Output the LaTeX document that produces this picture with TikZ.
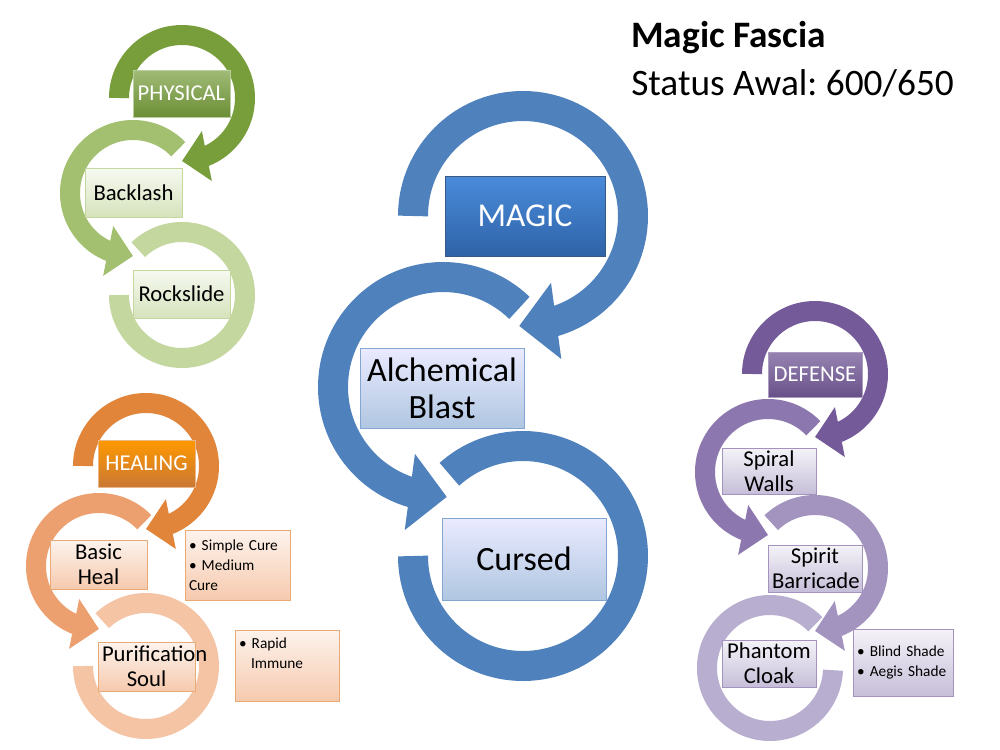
\documentclass[tikz,border=0pt]{standalone}
\usepackage{fontspec}
\setmainfont{Carlito}
\frenchspacing
\usetikzlibrary{arrows.meta,bending,shadows}
\definecolor{mgR}{HTML}{4F81BD}
\definecolor{mgTop}{HTML}{4A8BDA}\definecolor{mgBot}{HTML}{2F63A8}
\definecolor{phA}{HTML}{789E3C}\definecolor{phB}{HTML}{A2C06F}\definecolor{phC}{HTML}{C4D79F}
\definecolor{heA}{HTML}{E0853A}\definecolor{heB}{HTML}{EDA06F}\definecolor{heC}{HTML}{F5C4A5}
\definecolor{deA}{HTML}{745A98}\definecolor{deB}{HTML}{8D77AF}\definecolor{deC}{HTML}{A394BF}\definecolor{deD}{HTML}{B8AECF}
\tikzset{
 bigring/.style={line width=22.5pt},
 smallring/.style={line width=15pt},
 bigtip/.style={-{Triangle[width=56pt,length=28pt]}},
 smalltip/.style={-{Triangle[width=37pt,length=19pt]}},
 bigwtip/.style={-{Triangle[width=64pt,length=32pt]}},
 smallwtip/.style={-{Triangle[width=44pt,length=23pt]}},
 box/.style={rectangle,inner sep=1pt,align=center,drop shadow={opacity=0.25,shadow xshift=1pt,shadow yshift=-1pt}},
 magicbox/.style={box,top color=mgTop,bottom color=mgBot,draw=mgR!70!black,text=white,font=\fontsize{25}{28}\selectfont},
 bluebox/.style={box,top color=blue!8!white,bottom color=mgR!45!white,draw=mgR!70!white,font=\fontsize{25.5}{28}\selectfont},
 phhead/.style={box,top color=phA!70!white,bottom color=phA!90!black,draw=phA!50!white,text=white,font=\fontsize{17}{19}\selectfont},
 phbox/.style={box,top color=phC!15!white,bottom color=phC!70!white,draw=phC,font=\fontsize{17}{19}\selectfont},
 hehead/.style={box,top color=orange!80!yellow,bottom color=heA!90!black,draw=heA!60!white,text=white,font=\fontsize{17}{19}\selectfont},
 hebox/.style={box,top color=heC!20!white,bottom color=heC!90!white,draw=heA!70!white,font=\fontsize{17}{19}\selectfont},
 hebul/.style={box,top color=heC!20!white,bottom color=heC!90!white,draw=heA!70!white,align=left,font=\fontsize{11.5}{15}\selectfont},
 dehead/.style={box,top color=deA!75!white,bottom color=deA!90!black,draw=deA!60!white,text=white,font=\fontsize{17}{19}\selectfont},
 debox/.style={box,top color=deD!15!white,bottom color=deD!80!white,draw=deB!80!white,font=\fontsize{17}{19}\selectfont},
 debul/.style={box,top color=deD!15!white,bottom color=deD!80!white,draw=deB!80!white,align=left,font=\fontsize{11.5}{15}\selectfont},
}
\newcommand\rg[9]{%
 \draw[#7,white,line width=\pgfkeysvalueof{/pgf/ringw}, #9] ([shift={(#4:#3)}]#1,#2) arc[start angle=#4,end angle=#5,radius=#3];
 \draw[#7,draw=#6,fill=none,#8] ([shift={(#4:#3)}]#1,#2) arc[start angle=#4,end angle=#5,radius=#3];}
\pgfkeys{/pgf/ringw/.initial=27pt}
\newcommand\bx[7]{%
 \pgfmathsetmacro\bw{(#4-#2)*0.75}\pgfmathsetmacro\bh{(#5-#3)*0.75}%
 \node[#6,minimum width=\bw pt,minimum height=\bh pt,text width={\bw pt-6pt}] (#1) at ({(#2+#4)/2},{(#3+#5)/2}) {#7};}
\begin{document}
\begin{tikzpicture}[x=0.75pt,y=-0.75pt]
\useasboundingbox[fill=white] (0,0) rectangle (1000,750);
% MAGIC
\pgfkeys{/pgf/ringw=27pt}
\draw[bigring,draw=mgR] ([shift={(180:110)}]523,556) arc[start angle=180,end angle=-132,radius=110];
\rg{443}{387}{110}{-46}{-272}{mgR}{bigring}{bigtip}{bigwtip}
\rg{523}{216}{110}{180}{452}{mgR}{bigring}{bigtip}{bigwtip}
% PHYSICAL
\pgfkeys{/pgf/ringw=19pt}
\draw[smallring,draw=phC] ([shift={(180:63)}]182,295) arc[start angle=180,end angle=-134,radius=63];
\rg{133}{193}{63}{-44}{-270}{phB}{smallring}{smalltip}{smallwtip}
\rg{182}{98}{63}{180}{450}{phA}{smallring}{smalltip}{smallwtip}
% HEALING
\draw[smallring,draw=heC] ([shift={(180:63)}]146,666) arc[start angle=180,end angle=-134,radius=63];
\rg{99}{566}{63}{-44}{-270}{heB}{smallring}{smalltip}{smallwtip}
\rg{146}{466}{63}{180}{450}{heA}{smallring}{smalltip}{smallwtip}
% DEFENSE
\draw[smallring,draw=deD] ([shift={(-44:63)}]770,668) arc[start angle=-44,end angle=-358,radius=63];
\rg{815}{568}{63}{-134}{90}{deC}{smallring}{smalltip}{smallwtip}
\rg{768}{472}{63}{-44}{-270}{deB}{smallring}{smalltip}{smallwtip}
\rg{815}{374}{63}{180}{450}{deA}{smallring}{smalltip}{smallwtip}
% boxes
\bx{magic}{445}{176}{605}{256}{magicbox}{MAGIC}
\bx{alch}{360}{348}{524}{428}{bluebox}{Alchemical\\Blast}
\bx{cursed}{442}{518}{606}{600}{bluebox}{Cursed}
\bx{phys}{133}{70}{230}{117}{phhead}{PHYSICAL}
\bx{back}{85}{168}{182}{217}{phbox}{Backlash}
\bx{rock}{133}{270}{230}{318}{phbox}{Rockslide}
\bx{heal}{98}{440}{195}{487}{hehead}{HEALING}
\bx{basic}{50}{540}{147}{589}{hebox}{Basic Heal}
\bx{puri}{98}{642}{195}{691}{hebox}{Purification\\Soul}
\bx{hb1}{185}{530}{290}{600}{hebul}{\textbullet\ Simple Cure\\\textbullet\ Medium Cure}
\bx{hb2}{235}{630}{339}{701}{hebul}{\textbullet\ Rapid\\\hspace*{9pt}Immune\\[4pt]\mbox{}}
\bx{def}{768}{352}{862}{397}{dehead}{DEFENSE}
\bx{spiral}{722}{448}{816}{494}{debox}{Spiral\\Walls}
\bx{spirit}{768}{545}{862}{592}{debox}{Spirit\\Barricade}
\bx{phantom}{722}{640}{816}{687}{debox}{Phantom\\Cloak}
\bx{db}{853}{629}{953}{696}{debul}{\textbullet\ Blind Shade\\\textbullet\ Aegis Shade}
% title
\node[anchor=west,font=\fontsize{28}{30}\selectfont\bfseries,inner sep=0pt] (title) at (631,38) {Magic Fascia};
\node[anchor=west,font=\fontsize{28}{30}\selectfont,inner sep=0pt] (status) at (631,83) {Status Awal: 600/650};
\end{tikzpicture}
\end{document}
